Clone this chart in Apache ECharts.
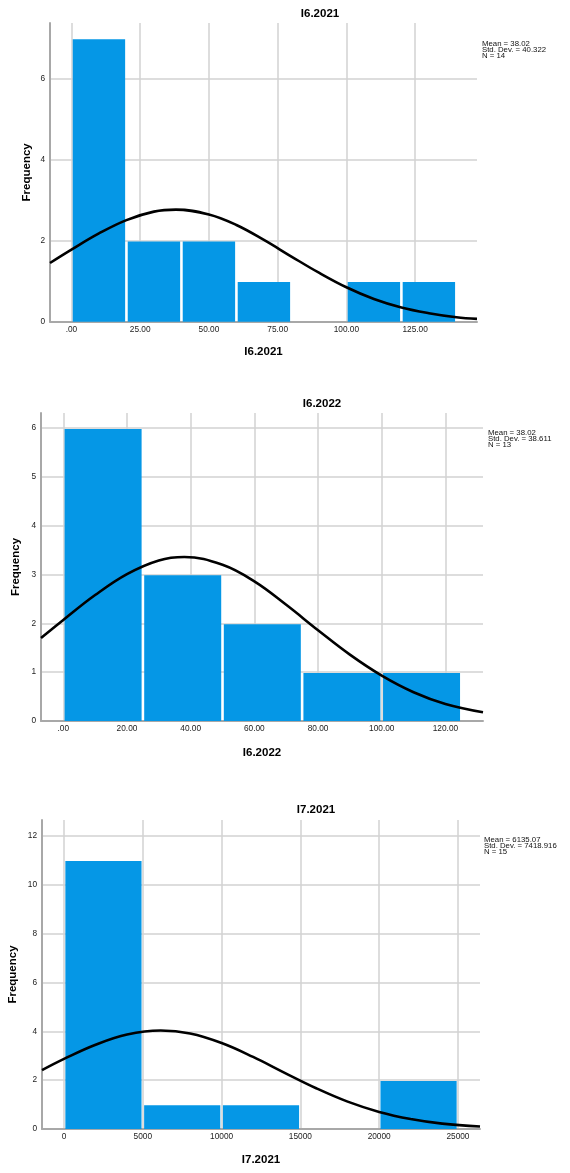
<!DOCTYPE html>
<html>
<head>
<meta charset="utf-8">
<script src="https://cdn.jsdelivr.net/npm/echarts@6/dist/echarts.min.js"></script>
<style>html,body{margin:0;padding:0;background:#fff;}#c{width:570px;height:1173px;}</style>
</head>
<body>
<div id="c"></div>
<script>
// ---- Chart 1: I6.2021 ----
var title1 = 'I6.2021';
var stats1 = ['Mean = 38.02', 'Std. Dev. = 40.322', 'N = 14'];
var binEdges1 = [0, 20, 40, 60, 80, 100, 120, 140];
var counts1 = [7, 2, 2, 1, 0, 1, 1];
var xTicks1 = [0, 25, 50, 75, 100, 125];
var xTickLabels1 = ['.00', '25.00', '50.00', '75.00', '100.00', '125.00'];
var yTicks1 = [0, 2, 4, 6];
var curveX1 = [-7.8, 0, 10, 20, 30, 38, 50, 60, 70, 80, 90, 100, 110, 120, 130, 140, 147.5];
var curveY1 = [1.45, 1.78, 2.18, 2.51, 2.72, 2.77, 2.65, 2.39, 2.02, 1.61, 1.21, 0.85, 0.56, 0.35, 0.21, 0.11, 0.07];

// ---- Chart 2: I6.2022 ----
var title2 = 'I6.2022';
var stats2 = ['Mean = 38.02', 'Std. Dev. = 38.611', 'N = 13'];
var binEdges2 = [0, 25, 50, 75, 100, 125];
var counts2 = [6, 3, 2, 1, 1];
var xTicks2 = [0, 20, 40, 60, 80, 100, 120];
var xTickLabels2 = ['.00', '20.00', '40.00', '60.00', '80.00', '100.00', '120.00'];
var yTicks2 = [0, 1, 2, 3, 4, 5, 6];
var curveX2 = [-7, 0, 10, 20, 30, 38, 50, 60, 70, 80, 90, 100, 110, 120, 131.8];
var curveY2 = [1.70, 2.07, 2.58, 3.01, 3.29, 3.36, 3.20, 2.86, 2.38, 1.86, 1.36, 0.93, 0.59, 0.35, 0.18];

// ---- Chart 3: I7.2021 ----
var title3 = 'I7.2021';
var stats3 = ['Mean = 6135.07', 'Std. Dev. = 7418.916', 'N = 15'];
var binEdges3 = [0, 5000, 10000, 15000, 20000, 25000];
var counts3 = [11, 1, 1, 0, 2];
var xTicks3 = [0, 5000, 10000, 15000, 20000, 25000];
var xTickLabels3 = ['0', '5000', '10000', '15000', '20000', '25000'];
var yTicks3 = [0, 2, 4, 6, 8, 10, 12];
var curveX3 = [-1400, 0, 2000, 4000, 6135, 8000, 10000, 12000, 14000, 16000, 18000, 20000, 22000, 24000, 26400];
var curveY3 = [2.41, 2.87, 3.45, 3.87, 4.03, 3.91, 3.52, 2.95, 2.30, 1.67, 1.12, 0.70, 0.41, 0.22, 0.10];

var FONT = '"Liberation Sans", Arial, sans-serif';
var BAR = '#0597e6';

var panels = [
  {title: title1, stats: stats1, edges: binEdges1, counts: counts1, xt: xTicks1, xl: xTickLabels1, yt: yTicks1, cx: curveX1, cy: curveY1,
   grid: {left: 50, width: 427, top: 23, height: 298.7}, xmin: -7.8, xmax: 147.5, ymax: 7.38, titlePos: [320, 14], statsPos: [482, 41], yGap: 16.8, xGap: 23.8},
  {title: title2, stats: stats2, edges: binEdges2, counts: counts2, xt: xTicks2, xl: xTickLabels2, yt: yTicks2, cx: curveX2, cy: curveY2,
   grid: {left: 41, width: 442, top: 413, height: 308}, xmin: -7, xmax: 131.8, ymax: 6.31, titlePos: [322, 403.5], statsPos: [488, 430], yGap: 19.5, xGap: 25.5},
  {title: title3, stats: stats3, edges: binEdges3, counts: counts3, xt: xTicks3, xl: xTickLabels3, yt: yTicks3, cx: curveX3, cy: curveY3,
   grid: {left: 42, width: 438, top: 820, height: 309}, xmin: -1400, xmax: 26400, ymax: 12.65, titlePos: [316, 810], statsPos: [484, 837], yGap: 23.5, xGap: 24.5}
];

var option = {animation: false, backgroundColor: '#fff', grid: [], xAxis: [], yAxis: [], series: [], graphic: []};

panels.forEach(function (p, i) {
  option.grid.push(Object.assign({containLabel: false, outerBoundsMode: 'none'}, p.grid));
  option.xAxis.push({
    type: 'value', gridIndex: i, min: p.xmin, max: p.xmax,
    name: p.title, nameLocation: 'middle', nameGap: p.xGap, nameMoveOverlap: false,
    nameTextStyle: {fontFamily: FONT, fontSize: 11.5, fontWeight: 'bold', color: '#000'},
    axisLine: {show: true, onZero: false, lineStyle: {color: '#a8a8a8', width: 2}},
    axisTick: {show: false, customValues: p.xt},
    axisLabel: {customValues: p.xt, margin: 4, fontFamily: FONT, fontSize: 8.3, color: '#222',
      formatter: (function (xt, xl) { return function (v) { var k = xt.indexOf(v); return k >= 0 ? xl[k] : ''; }; })(p.xt, p.xl)},
    splitLine: {show: true, lineStyle: {color: '#d2d2d2', width: 1.5}}
  });
  option.yAxis.push({
    type: 'value', gridIndex: i, min: 0, max: p.ymax,
    name: 'Frequency', nameLocation: 'middle', nameGap: p.yGap, nameMoveOverlap: false,
    nameTextStyle: {fontFamily: FONT, fontSize: 11.5, fontWeight: 'bold', color: '#000'},
    axisLine: {show: true, onZero: false, lineStyle: {color: '#a8a8a8', width: 2}},
    axisTick: {show: false, customValues: p.yt},
    axisLabel: {customValues: p.yt, margin: 5, fontFamily: FONT, fontSize: 8.3, color: '#222'},
    splitLine: {show: true, lineStyle: {color: '#d2d2d2', width: 1.5}}
  });
  var barData = p.counts.map(function (c, k) { return [p.edges[k], p.edges[k + 1], c]; });
  option.series.push({
    type: 'custom', xAxisIndex: i, yAxisIndex: i, z: 3,
    data: barData,
    renderItem: function (params, api) {
      var c = api.value(2);
      if (!c) return null;
      var a = api.coord([api.value(0), 0]);
      var b = api.coord([api.value(1), c]);
      var g = 1.3;
      return {type: 'rect', shape: {x: a[0] + g, y: b[1] + 0.8, width: b[0] - a[0] - 2 * g, height: a[1] - b[1] - 0.8}, style: {fill: BAR}};
    }
  });
  option.series.push({
    type: 'line', xAxisIndex: i, yAxisIndex: i, z: 5, smooth: 0.4, symbol: 'none',
    lineStyle: {color: '#000', width: 2.6}, silent: true,
    data: p.cx.map(function (x, k) { return [x, p.cy[k]]; })
  });
  option.graphic.push({
    type: 'text', x: p.titlePos[0], y: p.titlePos[1],
    style: {text: p.title, font: 'bold 11.5px ' + FONT, fill: '#000', textAlign: 'center', textVerticalAlign: 'middle'}
  });
  option.graphic.push({
    type: 'text', x: p.statsPos[0], y: p.statsPos[1], scaleX: 1.18,
    style: {text: p.stats.join('\n'), fontFamily: FONT, fontSize: 6.6, lineHeight: 6.2, fill: '#111', textAlign: 'left', textVerticalAlign: 'top'}
  });
});

var chart = echarts.init(document.getElementById('c'), null, {renderer: 'canvas'});
chart.setOption(option);
</script>
</body>
</html>
